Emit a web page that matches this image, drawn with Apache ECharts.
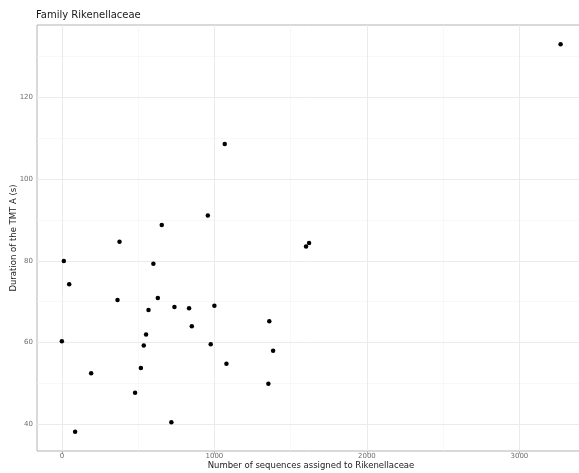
<!DOCTYPE html>
<html>
<head>
<meta charset="utf-8">
<script src="https://cdn.jsdelivr.net/npm/echarts@6/dist/echarts.min.js"></script>
<style>
html,body{margin:0;padding:0;background:#fff;}
#c{width:579px;height:473px;}
</style>
</head>
<body>
<div id="c"></div>
<script>
var seqCounts = [13, 48, 0, 87, 192, 378, 365, 655, 600, 629, 568, 738, 834, 852, 1000, 957, 552, 537, 518, 480, 718, 976, 1079, 1360, 1385, 1354, 1068, 1601, 1621, 3270];
var durations = [80.0, 74.3, 60.3, 38.2, 52.5, 84.7, 70.4, 88.8, 79.3, 70.9, 68.0, 68.7, 68.4, 64.0, 69.0, 91.1, 62.0, 59.3, 53.8, 47.7, 40.5, 59.6, 54.8, 65.2, 58.0, 49.9, 108.6, 83.5, 84.4, 133.0];
var xTicks = [0, 1000, 2000, 3000];
var xMinor = [500, 1500, 2500];
var yTicks = [40, 60, 80, 100, 120];
var yMinor = [50, 70, 90, 110, 130];

var points = seqCounts.map(function(v, i){ return [v, durations[i]]; });
var F = 'DejaVu Sans';

function gridLines(vals, axis, color, width){
  return vals.map(function(v){
    var o = {lineStyle:{color:color, width:width, type:'solid'}};
    o[axis] = v;
    return o;
  });
}

var chart = echarts.init(document.getElementById('c'), null, {renderer:'canvas'});
chart.setOption({
  animation:false,
  backgroundColor:'#ffffff',
  title:{text:'Family Rikenellaceae', left:36, top:10, padding:0,
    textStyle:{fontFamily:F, fontSize:10, fontWeight:'normal', color:'#1a1a1a'}},
  grid:{left:37, top:25, width:548, height:426, containLabel:false, outerBoundsMode:'none',
    show:true, borderColor:'#b3b3b3', borderWidth:1, backgroundColor:'#ffffff'},
  xAxis:{type:'value', min:-163, max:3430,
    name:'Number of sequences assigned to Rikenellaceae', nameLocation:'middle', nameGap:10,
    nameMoveOverlap:false,
    nameTextStyle:{fontFamily:F, fontSize:8.5, color:'#1a1a1a'},
    axisLine:{show:false},
    axisTick:{show:true, customValues:xTicks, length:3, lineStyle:{color:'#b3b3b3'}},
    axisLabel:{customValues:xTicks, margin:2, fontFamily:F, fontSize:7, color:'#6e6e6e',
      formatter:function(v){ return String(v); }},
    splitLine:{show:false}},
  yAxis:{type:'value', min:33.46, max:137.74,
    name:'Duration of the TMT A (s)', nameLocation:'middle', nameGap:19, nameRotate:90,
    nameMoveOverlap:false,
    nameTextStyle:{fontFamily:F, fontSize:8.5, color:'#1a1a1a'},
    axisLine:{show:false},
    axisTick:{show:true, customValues:yTicks, length:3, lineStyle:{color:'#b3b3b3'}},
    axisLabel:{customValues:yTicks, margin:4, fontFamily:F, fontSize:7, color:'#6e6e6e',
      formatter:function(v){ return String(v); }},
    splitLine:{show:false}},
  series:[
    {type:'scatter', data:[], z:1, silent:true,
      markLine:{silent:true, symbol:'none', label:{show:false}, animation:false,
        data: gridLines(xMinor,'xAxis','#f4f4f4',0.6)
          .concat(gridLines(yMinor,'yAxis','#f4f4f4',0.6))
          .concat(gridLines(xTicks,'xAxis','#ebebeb',1))
          .concat(gridLines(yTicks,'yAxis','#ebebeb',1))}},
    {type:'scatter', data:points, z:5, symbol:'circle', symbolSize:4.5,
      itemStyle:{color:'#000000', opacity:1}}
  ]
});
</script>
</body>
</html>
